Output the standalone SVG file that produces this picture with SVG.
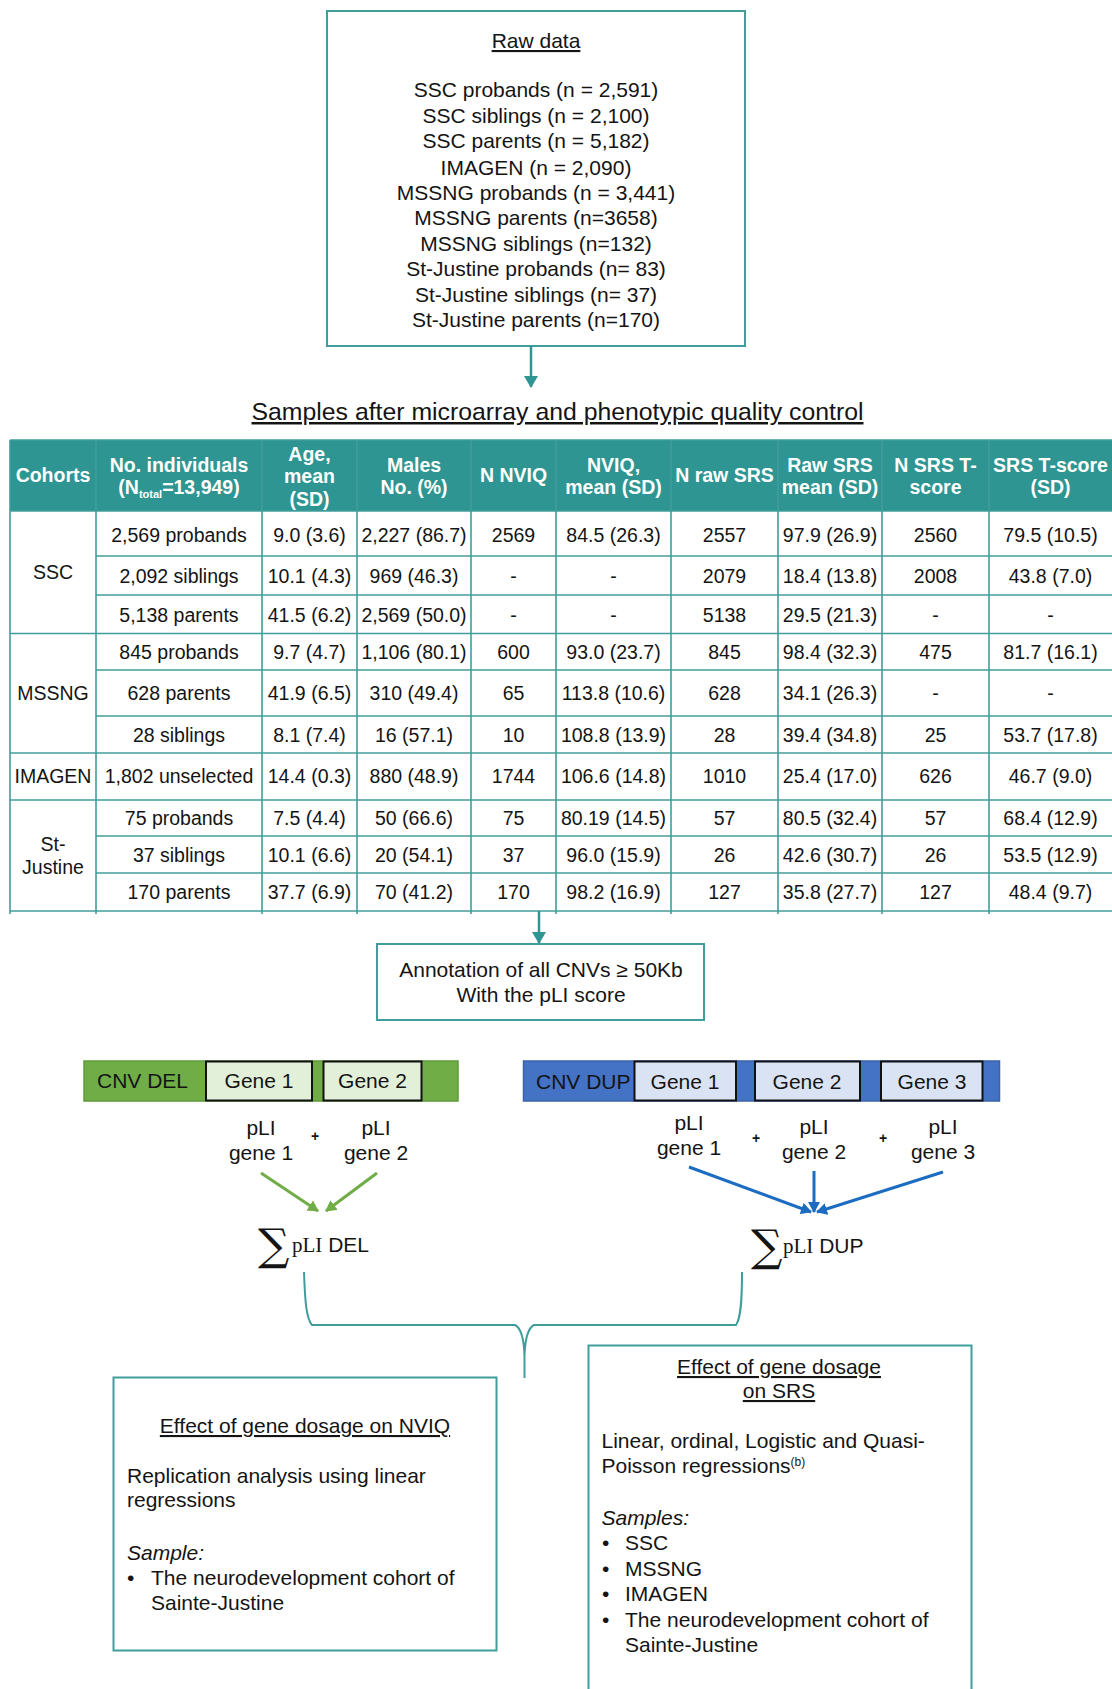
<svg xmlns="http://www.w3.org/2000/svg" width="1112" height="1689" viewBox="0 0 1112 1689">
<style>
text{font-family:"Liberation Sans",Arial,sans-serif;fill:#141414}
.t21{font-size:21px}
.mid{text-anchor:middle}
.ul{text-decoration:underline}
.box{fill:#fff;stroke:#3f9e9b;stroke-width:2}
.hdr{font-size:19.5px;font-weight:bold;fill:#fff;text-anchor:middle}
.cell{font-size:19.5px;text-anchor:middle}
.grid{stroke:#3f9e9b;stroke-width:1.6;fill:none}
.gene{font-size:21px;text-anchor:middle}
.plus{font-size:14px;font-weight:bold;text-anchor:middle}
.serif{font-family:"Liberation Serif","Times New Roman",serif}
.sig{font-family:"DejaVu Serif",serif;font-size:44px}
</style>
<defs>
<marker id="ahTeal" markerUnits="userSpaceOnUse" markerWidth="14" markerHeight="14" refX="11" refY="7" orient="auto"><path d="M0,0 L12,7 L0,14 z" fill="#2e9592"/></marker>
<marker id="ahGreen" markerUnits="userSpaceOnUse" markerWidth="12" markerHeight="12" refX="10" refY="6" orient="auto"><path d="M0,0 L11,6 L0,12 z" fill="#70ad47"/></marker>
<marker id="ahBlue" markerUnits="userSpaceOnUse" markerWidth="12" markerHeight="12" refX="10" refY="6" orient="auto"><path d="M0,0 L11,6 L0,12 z" fill="#1c6cc2"/></marker>
</defs>
<rect width="1112" height="1689" fill="#fff"/>

<g id="raw-data">
<rect class="box" x="327" y="11" width="418" height="335"/>
<text class="t21 mid ul" x="536" y="48">Raw data</text>
<text class="t21 mid" x="536" y="97">SSC probands (n = 2,591)</text>
<text class="t21 mid" x="536" y="123">SSC siblings (n = 2,100)</text>
<text class="t21 mid" x="536" y="148">SSC parents (n = 5,182)</text>
<text class="t21 mid" x="536" y="175">IMAGEN (n = 2,090)</text>
<text class="t21 mid" x="536" y="200">MSSNG probands (n = 3,441)</text>
<text class="t21 mid" x="536" y="225">MSSNG parents (n=3658)</text>
<text class="t21 mid" x="536" y="251">MSSNG siblings (n=132)</text>
<text class="t21 mid" x="536" y="276">St-Justine probands (n= 83)</text>
<text class="t21 mid" x="536" y="302">St-Justine siblings (n= 37)</text>
<text class="t21 mid" x="536" y="327">St-Justine parents (n=170)</text>
</g>

<g id="samples-title">
<text class="mid ul" x="557.5" y="420" font-size="24.8">Samples after microarray and phenotypic quality control</text>
</g>

<g id="samples-table">
<rect x="10" y="440" width="1102" height="71" fill="#2e9592"/>
<g class="grid">
<line x1="10" y1="440" x2="1112" y2="440"/>
<line x1="10" y1="440" x2="10" y2="914"/>
<line x1="96" y1="440" x2="96" y2="914"/>
<line x1="262" y1="440" x2="262" y2="914"/>
<line x1="357" y1="440" x2="357" y2="914"/>
<line x1="471" y1="440" x2="471" y2="914"/>
<line x1="556" y1="440" x2="556" y2="914"/>
<line x1="671" y1="440" x2="671" y2="914"/>
<line x1="778" y1="440" x2="778" y2="914"/>
<line x1="882" y1="440" x2="882" y2="914"/>
<line x1="989" y1="440" x2="989" y2="914"/>
<line x1="10" y1="511" x2="1112" y2="511"/>
<line x1="96" y1="556" x2="1112" y2="556"/>
<line x1="96" y1="595" x2="1112" y2="595"/>
<line x1="10" y1="633.5" x2="1112" y2="633.5"/>
<line x1="96" y1="670" x2="1112" y2="670"/>
<line x1="96" y1="716" x2="1112" y2="716"/>
<line x1="10" y1="753" x2="1112" y2="753"/>
<line x1="10" y1="800" x2="1112" y2="800"/>
<line x1="96" y1="836" x2="1112" y2="836"/>
<line x1="96" y1="873" x2="1112" y2="873"/>
<line x1="10" y1="911" x2="1112" y2="911"/>
</g>
<text class="hdr" x="53" y="482">Cohorts</text>
<text class="hdr" x="179" y="471.5">No. individuals</text>
<text class="hdr" x="179" y="494">(N<tspan font-size="11" dy="4">total</tspan><tspan dy="-4">=13,949)</tspan></text>
<text class="hdr" x="309.5" y="460.5">Age,</text>
<text class="hdr" x="309.5" y="483">mean</text>
<text class="hdr" x="309.5" y="506">(SD)</text>
<text class="hdr" x="414" y="471.5">Males</text>
<text class="hdr" x="414" y="494">No. (%)</text>
<text class="hdr" x="513.5" y="482">N NVIQ</text>
<text class="hdr" x="613.5" y="471.5">NVIQ,</text>
<text class="hdr" x="613.5" y="494">mean (SD)</text>
<text class="hdr" x="724.5" y="482">N raw SRS</text>
<text class="hdr" x="830" y="471.5">Raw SRS</text>
<text class="hdr" x="830" y="494">mean (SD)</text>
<text class="hdr" x="935.5" y="471.5">N SRS T-</text>
<text class="hdr" x="935.5" y="494">score</text>
<text class="hdr" x="1050.5" y="471.5">SRS T-score</text>
<text class="hdr" x="1050.5" y="494">(SD)</text>

<text class="cell" x="53" y="579">SSC</text>
<text class="cell" x="53" y="700">MSSNG</text>
<text class="cell" x="53" y="783">IMAGEN</text>
<text class="cell" x="53" y="851">St-</text>
<text class="cell" x="53" y="874">Justine</text>

<g>
<text class="cell" x="179" y="541.5">2,569 probands</text><text class="cell" x="309.5" y="541.5">9.0 (3.6)</text><text class="cell" x="414" y="541.5">2,227 (86.7)</text><text class="cell" x="513.5" y="541.5">2569</text><text class="cell" x="613.5" y="541.5">84.5 (26.3)</text><text class="cell" x="724.5" y="541.5">2557</text><text class="cell" x="830" y="541.5">97.9 (26.9)</text><text class="cell" x="935.5" y="541.5">2560</text><text class="cell" x="1050.5" y="541.5">79.5 (10.5)</text>
</g>
<g>
<text class="cell" x="179" y="583">2,092 siblings</text><text class="cell" x="309.5" y="583">10.1 (4.3)</text><text class="cell" x="414" y="583">969 (46.3)</text><text class="cell" x="513.5" y="583">-</text><text class="cell" x="613.5" y="583">-</text><text class="cell" x="724.5" y="583">2079</text><text class="cell" x="830" y="583">18.4 (13.8)</text><text class="cell" x="935.5" y="583">2008</text><text class="cell" x="1050.5" y="583">43.8 (7.0)</text>
</g>
<g>
<text class="cell" x="179" y="621.5">5,138 parents</text><text class="cell" x="309.5" y="621.5">41.5 (6.2)</text><text class="cell" x="414" y="621.5">2,569 (50.0)</text><text class="cell" x="513.5" y="621.5">-</text><text class="cell" x="613.5" y="621.5">-</text><text class="cell" x="724.5" y="621.5">5138</text><text class="cell" x="830" y="621.5">29.5 (21.3)</text><text class="cell" x="935.5" y="621.5">-</text><text class="cell" x="1050.5" y="621.5">-</text>
</g>
<g>
<text class="cell" x="179" y="659">845 probands</text><text class="cell" x="309.5" y="659">9.7 (4.7)</text><text class="cell" x="414" y="659">1,106 (80.1)</text><text class="cell" x="513.5" y="659">600</text><text class="cell" x="613.5" y="659">93.0 (23.7)</text><text class="cell" x="724.5" y="659">845</text><text class="cell" x="830" y="659">98.4 (32.3)</text><text class="cell" x="935.5" y="659">475</text><text class="cell" x="1050.5" y="659">81.7 (16.1)</text>
</g>
<g>
<text class="cell" x="179" y="700">628 parents</text><text class="cell" x="309.5" y="700">41.9 (6.5)</text><text class="cell" x="414" y="700">310 (49.4)</text><text class="cell" x="513.5" y="700">65</text><text class="cell" x="613.5" y="700">113.8 (10.6)</text><text class="cell" x="724.5" y="700">628</text><text class="cell" x="830" y="700">34.1 (26.3)</text><text class="cell" x="935.5" y="700">-</text><text class="cell" x="1050.5" y="700">-</text>
</g>
<g>
<text class="cell" x="179" y="742">28 siblings</text><text class="cell" x="309.5" y="742">8.1 (7.4)</text><text class="cell" x="414" y="742">16 (57.1)</text><text class="cell" x="513.5" y="742">10</text><text class="cell" x="613.5" y="742">108.8 (13.9)</text><text class="cell" x="724.5" y="742">28</text><text class="cell" x="830" y="742">39.4 (34.8)</text><text class="cell" x="935.5" y="742">25</text><text class="cell" x="1050.5" y="742">53.7 (17.8)</text>
</g>
<g>
<text class="cell" x="179" y="783">1,802 unselected</text><text class="cell" x="309.5" y="783">14.4 (0.3)</text><text class="cell" x="414" y="783">880 (48.9)</text><text class="cell" x="513.5" y="783">1744</text><text class="cell" x="613.5" y="783">106.6 (14.8)</text><text class="cell" x="724.5" y="783">1010</text><text class="cell" x="830" y="783">25.4 (17.0)</text><text class="cell" x="935.5" y="783">626</text><text class="cell" x="1050.5" y="783">46.7 (9.0)</text>
</g>
<g>
<text class="cell" x="179" y="825">75 probands</text><text class="cell" x="309.5" y="825">7.5 (4.4)</text><text class="cell" x="414" y="825">50 (66.6)</text><text class="cell" x="513.5" y="825">75</text><text class="cell" x="613.5" y="825">80.19 (14.5)</text><text class="cell" x="724.5" y="825">57</text><text class="cell" x="830" y="825">80.5 (32.4)</text><text class="cell" x="935.5" y="825">57</text><text class="cell" x="1050.5" y="825">68.4 (12.9)</text>
</g>
<g>
<text class="cell" x="179" y="861.5">37 siblings</text><text class="cell" x="309.5" y="861.5">10.1 (6.6)</text><text class="cell" x="414" y="861.5">20 (54.1)</text><text class="cell" x="513.5" y="861.5">37</text><text class="cell" x="613.5" y="861.5">96.0 (15.9)</text><text class="cell" x="724.5" y="861.5">26</text><text class="cell" x="830" y="861.5">42.6 (30.7)</text><text class="cell" x="935.5" y="861.5">26</text><text class="cell" x="1050.5" y="861.5">53.5 (12.9)</text>
</g>
<g>
<text class="cell" x="179" y="899">170 parents</text><text class="cell" x="309.5" y="899">37.7 (6.9)</text><text class="cell" x="414" y="899">70 (41.2)</text><text class="cell" x="513.5" y="899">170</text><text class="cell" x="613.5" y="899">98.2 (16.9)</text><text class="cell" x="724.5" y="899">127</text><text class="cell" x="830" y="899">35.8 (27.7)</text><text class="cell" x="935.5" y="899">127</text><text class="cell" x="1050.5" y="899">48.4 (9.7)</text>
</g>
</g>

<g id="annotation">
<rect class="box" x="377" y="944" width="327" height="76"/>
<text class="t21 mid" x="541" y="977">Annotation of all CNVs ≥ 50Kb</text>
<text class="t21 mid" x="541" y="1002">With the pLI score</text>
</g>

<g id="cnv-del">
<rect x="84" y="1061" width="374" height="40" fill="#70ad47" stroke="#5e9a3b" stroke-width="1.5"/>
<rect x="206" y="1061.5" width="106" height="39" fill="#e2efd9" stroke="#111" stroke-width="2"/>
<rect x="323.5" y="1061.5" width="98" height="39" fill="#e2efd9" stroke="#111" stroke-width="2"/>
<text class="t21" x="97" y="1088">CNV DEL</text>
<text class="gene" x="259" y="1088">Gene 1</text>
<text class="gene" x="372.5" y="1088">Gene 2</text>
<text class="gene" x="261" y="1135">pLI</text>
<text class="gene" x="261" y="1160">gene 1</text>
<text class="plus" x="315" y="1141">+</text>
<text class="gene" x="376" y="1135">pLI</text>
<text class="gene" x="376" y="1160">gene 2</text>
</g>

<g id="sum-del">
<text class="sig" x="258" y="1260">∑</text>
<text x="292" y="1252" font-size="21"><tspan class="serif">pLI</tspan> DEL</text>
</g>

<g id="cnv-dup">
<rect x="523.5" y="1061" width="476" height="40" fill="#4472c4" stroke="#3a63ad" stroke-width="1.5"/>
<rect x="634.5" y="1061.5" width="101.5" height="39" fill="#dae3f3" stroke="#111" stroke-width="2"/>
<rect x="755" y="1061.5" width="105" height="39" fill="#dae3f3" stroke="#111" stroke-width="2"/>
<rect x="881" y="1061.5" width="101.5" height="39" fill="#dae3f3" stroke="#111" stroke-width="2"/>
<text class="t21" x="536" y="1089">CNV DUP</text>
<text class="gene" x="685" y="1089">Gene 1</text>
<text class="gene" x="807" y="1089">Gene 2</text>
<text class="gene" x="932" y="1089">Gene 3</text>
<text class="gene" x="689" y="1130">pLI</text>
<text class="gene" x="689" y="1155">gene 1</text>
<text class="plus" x="756" y="1143">+</text>
<text class="gene" x="814" y="1134">pLI</text>
<text class="gene" x="814" y="1159">gene 2</text>
<text class="plus" x="883" y="1143">+</text>
<text class="gene" x="943" y="1134">pLI</text>
<text class="gene" x="943" y="1159">gene 3</text>
</g>

<g id="sum-dup">
<text class="sig" x="751" y="1261">∑</text>
<text x="783" y="1253" font-size="21"><tspan class="serif">pLI</tspan> DUP</text>
</g>

<g id="nviq-box">
<rect class="box" x="113.5" y="1377.5" width="383" height="273"/>
<text class="t21 mid ul" x="305" y="1433">Effect of gene dosage on NVIQ</text>
<text class="t21" x="127" y="1483">Replication analysis using linear</text>
<text class="t21" x="127" y="1507">regressions</text>
<text class="t21" x="127" y="1560" font-style="italic">Sample:</text>
<text class="t21" x="127" y="1585">•</text>
<text class="t21" x="151" y="1585">The neurodevelopment cohort of</text>
<text class="t21" x="151" y="1610">Sainte-Justine</text>
</g>

<g id="srs-box">
<path class="box" d="M588.5,1700 V1345.5 H971.5 V1700"/>
<text class="t21 mid ul" x="779" y="1374">Effect of gene dosage</text>
<text class="t21 mid ul" x="779" y="1398">on SRS</text>
<text class="t21" x="601.5" y="1448">Linear, ordinal, Logistic and Quasi-</text>
<text class="t21" x="601.5" y="1473">Poisson regressions<tspan font-size="12" dy="-7">(b)</tspan></text>
<text class="t21" x="601.5" y="1525" font-style="italic">Samples:</text>
<text class="t21" x="602" y="1550">•</text><text class="t21" x="625" y="1550">SSC</text>
<text class="t21" x="602" y="1576">•</text><text class="t21" x="625" y="1576">MSSNG</text>
<text class="t21" x="602" y="1601">•</text><text class="t21" x="625" y="1601">IMAGEN</text>
<text class="t21" x="602" y="1627">•</text><text class="t21" x="625" y="1627">The neurodevelopment cohort of</text>
<text class="t21" x="625" y="1652">Sainte-Justine</text>
</g>

<g id="connectors">
<line x1="531" y1="346" x2="531" y2="387" stroke="#2e9592" stroke-width="2.5" marker-end="url(#ahTeal)"/>
<line x1="539" y1="911" x2="539" y2="943" stroke="#2e9592" stroke-width="2.5" marker-end="url(#ahTeal)"/>
<line x1="261" y1="1173" x2="318" y2="1211" stroke="#70ad47" stroke-width="3" marker-end="url(#ahGreen)"/>
<line x1="377" y1="1173" x2="326" y2="1211" stroke="#70ad47" stroke-width="3" marker-end="url(#ahGreen)"/>
<line x1="689" y1="1167" x2="811" y2="1212" stroke="#1c6cc2" stroke-width="3" marker-end="url(#ahBlue)"/>
<line x1="814" y1="1171" x2="814" y2="1212" stroke="#1c6cc2" stroke-width="3" marker-end="url(#ahBlue)"/>
<line x1="943" y1="1172" x2="817" y2="1212" stroke="#1c6cc2" stroke-width="3" marker-end="url(#ahBlue)"/>
<path d="M304,1272 C305,1300 306,1318 312,1325 L515,1325 C521,1328 524,1340 524.5,1356 L524.5,1378 M524.5,1356 C525,1340 528,1328 534,1325 L736,1325 C741,1318 742,1300 742,1272" fill="none" stroke="#3f9e9b" stroke-width="2"/>
</g>
</svg>
